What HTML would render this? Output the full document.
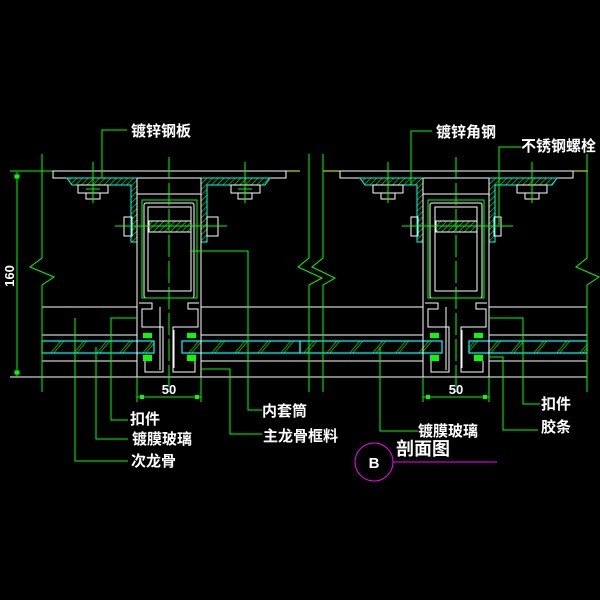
<!DOCTYPE html>
<html><head><meta charset="utf-8"><style>
html,body{margin:0;padding:0;background:#000;}
svg{display:block}
text{font-family:"Liberation Sans","Noto Sans CJK SC",sans-serif;fill:#fff;font-weight:bold}
</style></head><body>
<svg width="600" height="600" viewBox="0 0 600 600" xmlns="http://www.w3.org/2000/svg">
<defs>
<pattern id="h" width="4" height="4" patternUnits="userSpaceOnUse" patternTransform="rotate(45)">
<line x1="0" y1="0" x2="0" y2="4" stroke="#0f0" stroke-width="1.2"/></pattern>
<pattern id="g" width="23" height="12" patternUnits="userSpaceOnUse" patternTransform="skewX(-40)">
<line x1="2" y1="0" x2="2" y2="12" stroke="#0c0" stroke-width="1"/><line x1="5" y1="0" x2="5" y2="12" stroke="#0c0" stroke-width="1"/></pattern>
</defs>

<line x1="286" y1="171" x2="300" y2="171" stroke="#ff0"/>
<line x1="323" y1="171" x2="588" y2="171" stroke="#ff0"/>
<line x1="10" y1="171" x2="53" y2="171" stroke="#0f0"/>

<g stroke="#fff" stroke-width="1" fill="none">
<line x1="42" y1="307" x2="137" y2="307"/><line x1="201" y1="307" x2="300" y2="307"/>
<line x1="42" y1="335" x2="137" y2="335"/><line x1="201" y1="335" x2="300" y2="335"/>
<line x1="42" y1="361" x2="137" y2="361"/><line x1="201" y1="361" x2="300" y2="361"/>
<line x1="10" y1="377" x2="300" y2="377"/>
<line x1="300" y1="307" x2="423" y2="307"/><line x1="489" y1="307" x2="587" y2="307"/>
<line x1="300" y1="335" x2="423" y2="335"/><line x1="489" y1="335" x2="587" y2="335"/>
<line x1="300" y1="361" x2="423" y2="361"/><line x1="489" y1="361" x2="587" y2="361"/>
<line x1="300" y1="377" x2="587" y2="377"/>
</g>

<g stroke="#0ff" stroke-width="1.2" fill="url(#g)">
<rect x="42" y="341" width="112" height="12"/><rect x="182" y="341" width="118" height="12"/>
<rect x="300" y="341" width="142" height="12"/><rect x="469" y="341" width="118" height="12"/>
</g>

<g>
<rect x="53" y="171" width="233" height="7" fill="#000" stroke="#fff"/>
<path d="M67,178 H137 V242 H131 V185 H72 Z" fill="url(#h)" stroke="#0ff"/>
<path d="M270,178 H201 V242 H207 V185 H265 Z" fill="url(#h)" stroke="#0ff"/>
<g stroke="#fff" fill="none">
<rect x="78" y="185" width="30" height="8"/><rect x="86" y="193" width="14" height="6"/>
<rect x="231" y="185" width="29" height="8"/><rect x="238" y="193" width="14" height="6"/>
</g>
<g stroke="#0f0"><line x1="93" y1="162" x2="93" y2="203"/><line x1="245" y1="162" x2="245" y2="203"/>
<line x1="86" y1="189" x2="100" y2="189"/><line x1="238" y1="189" x2="252" y2="189"/></g>
<g stroke="#fff" fill="none">
<line x1="137" y1="178" x2="137" y2="377"/><line x1="201" y1="178" x2="201" y2="377"/>
<line x1="137" y1="194" x2="201" y2="194"/>
<rect x="144" y="203" width="50" height="95" rx="2"/>
<rect x="148" y="207" width="43" height="84"/>
<rect x="124" y="217" width="8" height="19"/><rect x="207" y="217" width="11" height="19"/>
<path d="M139,303 H152 V309 H142 V327 H163 V372 H145 V361"/>
<path d="M160,307 V370"/>
<path d="M199,303 H188 V309 H198 V327 H173 V372 H195 V361"/>
<path d="M174,330 V368"/>
</g>
<rect x="142" y="200" width="55" height="98" fill="none" stroke="#0f0"/>
<rect x="149" y="221" width="42" height="11" fill="url(#h)" stroke="#fff"/>
<line x1="115" y1="226" x2="227" y2="226" stroke="#0f0"/>
<line x1="169" y1="157" x2="169" y2="392" stroke="#0f0" stroke-dasharray="22,4"/>
<g fill="#0f0">
<rect x="143" y="333" width="9" height="5"/><rect x="143" y="355" width="9" height="6"/>
<rect x="187" y="333" width="9" height="5"/><rect x="187" y="355" width="9" height="6"/>
</g>
</g>

<g>
<rect x="340" y="171" width="233" height="7" fill="#000" stroke="#fff"/>
<path d="M360,178 H423 V242 H417 V185 H365 Z" fill="url(#h)" stroke="#0ff"/>
<path d="M557,178 H489 V242 H495 V185 H552 Z" fill="url(#h)" stroke="#0ff"/>
<g stroke="#fff" fill="none">
<rect x="373" y="185" width="30" height="8"/><rect x="381" y="193" width="14" height="6"/>
<rect x="517" y="185" width="30" height="8"/><rect x="525" y="193" width="14" height="6"/>
</g>
<g stroke="#0f0"><line x1="388" y1="162" x2="388" y2="203"/><line x1="532" y1="162" x2="532" y2="203"/></g>
<g stroke="#fff" fill="none">
<line x1="423" y1="178" x2="423" y2="377"/><line x1="489" y1="178" x2="489" y2="377"/>
<line x1="423" y1="194" x2="489" y2="194"/>
<rect x="430" y="203" width="52" height="95" rx="2"/>
<rect x="435" y="207" width="42" height="84"/>
<rect x="411" y="217" width="7" height="19"/><rect x="494" y="217" width="7" height="19"/>
<path d="M425,303 H438 V309 H428 V327 H449 V372 H431 V361"/>
<path d="M446,307 V370"/>
<path d="M487,303 H476 V309 H486 V327 H461 V372 H483 V361"/>
<path d="M462,330 V368"/>
</g>
<rect x="428" y="200" width="56" height="98" fill="none" stroke="#0f0"/>
<rect x="436" y="221" width="41" height="11" fill="url(#h)" stroke="#fff"/>
<line x1="402" y1="226" x2="513" y2="226" stroke="#0f0"/>
<line x1="456" y1="157" x2="456" y2="392" stroke="#0f0" stroke-dasharray="22,4"/>
<g fill="#0f0">
<rect x="430" y="333" width="9" height="5"/><rect x="430" y="355" width="9" height="6"/>
<rect x="474" y="333" width="9" height="5"/><rect x="474" y="355" width="9" height="6"/>
</g>
</g>

<g stroke="#0f0" fill="none">
<polyline points="42,154 42,258 30,267 54,277 42,285 42,392"/>
<polyline points="309,154 309,258 298,267 322,278 309,285 309,392"/>
<polyline points="323,154 323,258 312,267 335,278 323,285 323,392"/>
<polyline points="587,154 587,258 576,267 599,277 587,285 587,392"/>
</g>

<g stroke="#0f0">
<line x1="17" y1="172" x2="17" y2="377"/>
<rect x="15" y="175" width="4" height="3" fill="#0f0"/><rect x="15" y="371" width="4" height="3" fill="#0f0"/>
</g>
<text x="0" y="0" font-size="13" transform="translate(14,276) rotate(-90)" text-anchor="middle">160</text>

<g stroke="#0f0">
<line x1="137" y1="377" x2="137" y2="402"/><line x1="201" y1="377" x2="201" y2="402"/>
<line x1="137" y1="397" x2="201" y2="397"/>
<line x1="423" y1="377" x2="423" y2="402"/><line x1="489" y1="377" x2="489" y2="402"/>
<line x1="423" y1="397" x2="489" y2="397"/>
</g>
<g fill="#0f0"><rect x="140" y="395" width="4" height="4"/><rect x="195" y="395" width="4" height="4"/>
<rect x="426" y="395" width="4" height="4"/><rect x="483" y="395" width="4" height="4"/></g>
<text x="169" y="394" font-size="13" text-anchor="middle">50</text>
<text x="456" y="394" font-size="13" text-anchor="middle">50</text>

<g stroke="#0f0" fill="none">
<polyline points="102,178 102,130 127,130"/>
<polyline points="411,185 411,131 432,131"/>
<polyline points="499,225 499,147 521,147"/>
<polyline points="190,251 248,251 248,410 262,410"/>
<polyline points="201,369 230,369 230,434 262,434"/>
<polyline points="137,318 111,318 111,420 128,420"/>
<polyline points="96,347 96,439 128,439"/>
<polyline points="75,318 75,461 128,461"/>
<polyline points="380,347 380,431 418,431"/>
<polyline points="489,318 523,318 523,404 540,404"/>
<polyline points="489,357 503,357 503,430 538,430"/>
</g>

<g font-size="15">
<text x="131" y="136">镀锌钢板</text>
<text x="436" y="137">镀锌角钢</text>
<text x="521" y="151">不锈钢螺栓</text>
<text x="262" y="416">内套筒</text>
<text x="263" y="441">主龙骨框料</text>
<text x="130" y="424">扣件</text>
<text x="132" y="444">镀膜玻璃</text>
<text x="131" y="466">次龙骨</text>
<text x="418" y="436">镀膜玻璃</text>
<text x="541" y="409">扣件</text>
<text x="541" y="432">胶条</text>
</g>
<circle cx="374" cy="462" r="19" fill="none" stroke="#f0f"/>
<line x1="393" y1="462" x2="497" y2="462" stroke="#f0f"/>
<text x="374" y="468" font-size="15" text-anchor="middle" font-weight="normal">B</text>
<text x="396" y="455" font-size="18">剖面图</text>
</svg>
</body></html>
